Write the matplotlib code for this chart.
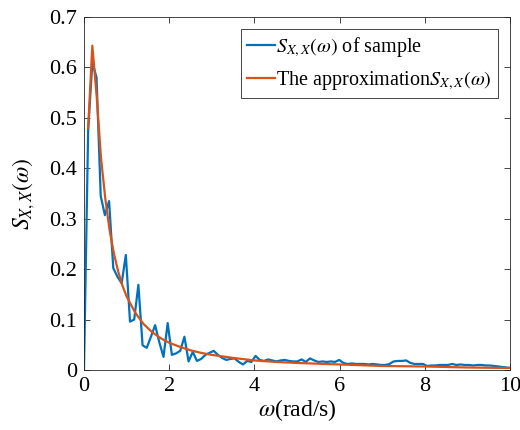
import numpy as np
import matplotlib
matplotlib.use("Agg")
import matplotlib.pyplot as plt

# ---- data ----
omega_step = 0.0982
sample_vals = [
    0.000, 0.476, 0.610, 0.580, 0.345, 0.307, 0.335, 0.202, 0.185, 0.172,
    0.228, 0.096, 0.100, 0.169, 0.049, 0.044, 0.066, 0.089, 0.055, 0.026,
    0.093, 0.030, 0.033, 0.038, 0.066, 0.017, 0.036, 0.018, 0.022, 0.030,
    0.034, 0.038, 0.030, 0.024, 0.020, 0.022, 0.023, 0.016, 0.011, 0.018,
    0.016, 0.028, 0.020, 0.018, 0.021, 0.019, 0.017, 0.019, 0.020, 0.018,
    0.017, 0.017, 0.021, 0.016, 0.023, 0.019, 0.016, 0.017, 0.016, 0.017,
    0.016, 0.020, 0.014, 0.012, 0.013, 0.012, 0.012, 0.012, 0.011, 0.012,
    0.011, 0.010, 0.010, 0.012, 0.017, 0.018, 0.018, 0.019, 0.014, 0.012,
    0.012, 0.012, 0.008, 0.009, 0.009, 0.010, 0.010, 0.010, 0.012, 0.010,
    0.011, 0.010, 0.010, 0.009, 0.010, 0.010, 0.009, 0.009, 0.008, 0.007,
    0.006, 0.005, 0.004,
]
approx_omega = [0.098, 0.196, 0.3, 0.4, 0.5, 0.6, 0.7, 0.8, 0.9, 1.0,
                1.2, 1.4, 1.6, 1.8, 2.0, 2.25, 2.5, 2.75, 3.0, 3.5,
                4.0, 4.5, 5.0, 6.0, 7.0, 8.0, 9.0, 10.0]
approx_vals = [0.480, 0.643, 0.540, 0.420, 0.340, 0.278, 0.232, 0.196, 0.168, 0.146,
               0.114, 0.091, 0.075, 0.063, 0.054, 0.046, 0.039, 0.034, 0.030, 0.024,
               0.019, 0.016, 0.014, 0.011, 0.008, 0.007, 0.005, 0.004]
x_ticks = [0, 2, 4, 6, 8, 10]
y_ticks = [0, 0.1, 0.2, 0.3, 0.4, 0.5, 0.6, 0.7]
y_tick_labels = ["0", "0.1", "0.2", "0.3", "0.4", "0.5", "0.6", "0.7"]

omega = omega_step * np.arange(len(sample_vals))

plt.rcParams['font.family'] = 'Liberation Serif'
plt.rcParams['mathtext.fontset'] = 'stix'

fig = plt.figure(figsize=(5.2, 4.3), dpi=100)
ax = fig.add_axes([0.1615, 0.1395, 0.8195, 0.821])

blue = '#0072BD'
orange = '#D95319'
ax.plot(omega, sample_vals, color=blue, lw=1.6, label=r'$S_{X,X}(\omega)$ of sample')
ax.plot(approx_omega, approx_vals, color=orange, lw=1.6,
        label=r'The approximation$S_{X,X}(\omega)$')

ax.set_xlim(0, 10)
ax.set_ylim(0, 0.7)
ax.set_xticks(x_ticks)
ax.set_yticks(y_ticks)
ax.set_yticklabels(y_tick_labels, family='Liberation Serif')
ax.set_xticklabels([str(t) for t in x_ticks], family='Liberation Serif')

axis_col = '#262626'
for s in ax.spines.values():
    s.set_color(axis_col)
    s.set_linewidth(0.6)
ax.tick_params(direction='in', length=4, width=0.6, colors=axis_col,
               labelsize=16, top=True, right=True, pad=5)
for lab in ax.get_xticklabels() + ax.get_yticklabels():
    lab.set_color('black')

ax.set_xlabel(r'$\omega$(rad/s)', fontsize=17, labelpad=1, family='Liberation Serif')
ax.set_ylabel(r'$S_{X,X}(\omega)$', fontsize=17, labelpad=9, family='Liberation Serif')

leg = ax.legend(loc='upper right', handlelength=1.4, handletextpad=0.05,
                borderpad=0.3, labelspacing=0.5, fancybox=False, framealpha=1,
                borderaxespad=0.6, prop={'family': 'Liberation Serif', 'size': 14.5})
leg.get_frame().set_edgecolor(axis_col)
leg.get_frame().set_linewidth(0.6)

fig.savefig('out.png', dpi=100)
